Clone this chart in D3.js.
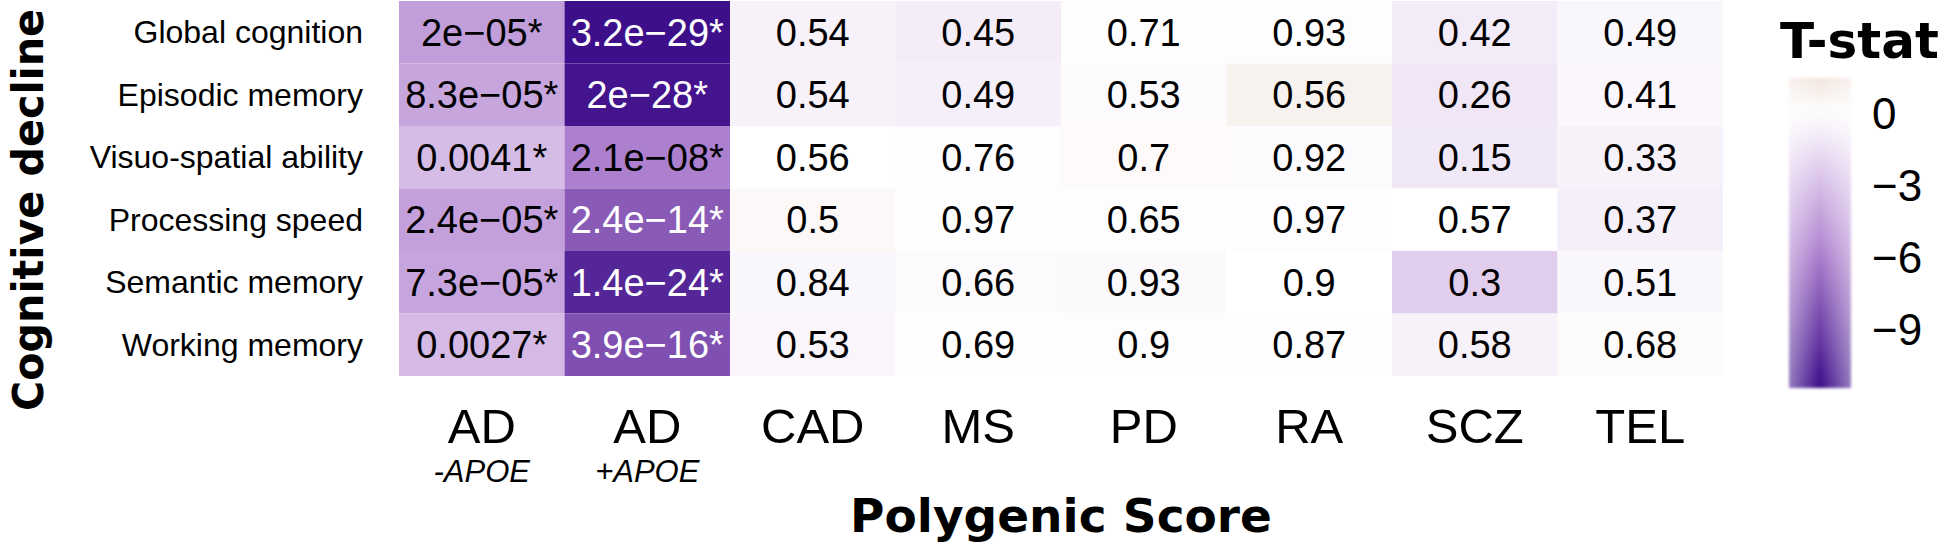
<!DOCTYPE html>
<html>
<head>
<meta charset="utf-8">
<script src="https://cdn.jsdelivr.net/npm/d3@7.9.0/dist/d3.min.js"></script>
<style>
  body { margin: 0; background: #fff; }
  svg { display: block; }
</style>
</head>
<body>
<svg id="chart" width="1946" height="546"></svg>
<script>
// rows = cognitive outcomes, columns = polygenic scores
let traits = ['Global cognition', 'Episodic memory', 'Visuo-spatial ability', 'Processing speed', 'Semantic memory', 'Working memory'];
let scores = ['AD-APOE', 'AD+APOE', 'CAD', 'MS', 'PD', 'RA', 'SCZ', 'TEL'];
let scoreLabels = ['AD', 'AD', 'CAD', 'MS', 'PD', 'RA', 'SCZ', 'TEL'];
let scoreSubLabels = ['-APOE', '+APOE', '', '', '', '', '', ''];

// p-values shown in the cells (one array per row)
let pGlobal     = ['2e−05*', '3.2e−29*', '0.54', '0.45', '0.71', '0.93', '0.42', '0.49'];
let pEpisodic   = ['8.3e−05*', '2e−28*', '0.54', '0.49', '0.53', '0.56', '0.26', '0.41'];
let pVisuo      = ['0.0041*', '2.1e−08*', '0.56', '0.76', '0.7', '0.92', '0.15', '0.33'];
let pProcessing = ['2.4e−05*', '2.4e−14*', '0.5', '0.97', '0.65', '0.97', '0.57', '0.37'];
let pSemantic   = ['7.3e−05*', '1.4e−24*', '0.84', '0.66', '0.93', '0.9', '0.3', '0.51'];
let pWorking    = ['0.0027*', '3.9e−16*', '0.53', '0.69', '0.9', '0.87', '0.58', '0.68'];

// T-statistics
let tGlobal     = [-4.4, -11.2, -0.6, -0.8, -0.1, 0.1, -0.9, -0.35];
let tEpisodic   = [-4.0, -11.0, -0.6, -0.7, -0.2, 0.7, -1.1, -0.4];
let tVisuo      = [-3.0, -5.8, 0.0, -0.15, 0.25, -0.2, -1.0, -0.6];
let tProcessing = [-4.3, -7.6, 0.35, 0.05, -0.1, -0.15, 0.0, -0.7];
let tSemantic   = [-4.1, -10.2, -0.35, -0.2, -0.25, 0.0, -2.2, -0.35];
let tWorking    = [-3.1, -8.1, -0.45, -0.05, -0.1, -0.05, -0.6, 0.15];

let legendTicks = [0, -3, -6, -9];
let legendRange = [-11.46, 1.46];

let pRows = [pGlobal, pEpisodic, pVisuo, pProcessing, pSemantic, pWorking];
let tRows = [tGlobal, tEpisodic, tVisuo, tProcessing, tSemantic, tWorking];

let cells = [];
traits.forEach((trait, i) => {
  scores.forEach((score, j) => {
    cells.push({ trait: trait, score: score, t: tRows[i][j], p: pRows[i][j] });
  });
});

let svg = d3.select('#chart');

let x = d3.scaleBand().domain(scores).range([399, 1723]);
let y = d3.scaleBand().domain(traits).range([1, 376]);

let color = d3.scaleLinear()
  .domain([-11.3, -5.6, 0, 11.3])
  .range(['#3c0c8a', '#b084d0', '#ffffff', '#7f3b08'])
  .interpolate(d3.interpolateLab)
  .clamp(true);

// heatmap cells
svg.append('g')
  .selectAll('rect')
  .data(cells)
  .join('rect')
  .attr('x', (d) => x(d.score))
  .attr('y', (d) => y(d.trait))
  .attr('width', x.bandwidth())
  .attr('height', y.bandwidth())
  .attr('fill', (d) => color(d.t));

svg.append('g')
  .selectAll('text')
  .data(cells)
  .join('text')
  .attr('x', (d) => x(d.score) + x.bandwidth() / 2)
  .attr('y', (d) => y(d.trait) + y.bandwidth() / 2)
  .attr('dy', '0.36em')
  .attr('text-anchor', 'middle')
  .attr('font-family', 'Liberation Sans, Arial, sans-serif')
  .attr('font-size', 38)
  .attr('fill', (d) => (d.t < -6.5 ? '#ffffff' : '#000000'))
  .text((d) => d.p);

// row labels
let yAxis = svg.append('g')
  .attr('transform', `translate(${x.range()[0]},0)`)
  .call(d3.axisLeft(y).tickSize(0).tickPadding(36));
yAxis.select('.domain').remove();
yAxis.selectAll('text')
  .attr('font-family', 'Liberation Sans, Arial, sans-serif')
  .attr('font-size', 32)
  .attr('fill', '#000')
  .attr('dy', '0.35em');

// column labels, AD ones get an italic second line
let xAxis = svg.append('g')
  .attr('transform', `translate(0,${y.range()[1]})`)
  .call(d3.axisBottom(x).tickSize(0).tickFormat(''));
xAxis.select('.domain').remove();
xAxis.selectAll('.tick text').each(function (d, i) {
  let t = d3.select(this)
    .attr('font-family', 'Liberation Sans, Arial, sans-serif')
    .attr('fill', '#000')
    .attr('y', 67)
    .attr('dy', 0);
  t.append('tspan').attr('x', 0).attr('font-size', 49).text(scoreLabels[i]);
  if (scoreSubLabels[i] !== '') {
    t.append('tspan')
      .attr('x', 0)
      .attr('dy', 39)
      .attr('font-size', 31)
      .attr('font-style', 'italic')
      .text(scoreSubLabels[i]);
  }
});

// axis titles
svg.append('text')
  .attr('x', (x.range()[0] + x.range()[1]) / 2)
  .attr('y', 532)
  .attr('text-anchor', 'middle')
  .attr('font-family', 'DejaVu Sans, sans-serif')
  .attr('font-weight', 'bold')
  .attr('font-size', 47)
  .text('Polygenic Score');

svg.append('text')
  .attr('transform', 'translate(43,210) rotate(-90)')
  .attr('text-anchor', 'middle')
  .attr('font-family', 'DejaVu Sans, sans-serif')
  .attr('font-weight', 'bold')
  .attr('font-size', 42)
  .attr('textLength', 402)
  .attr('lengthAdjust', 'spacingAndGlyphs')
  .text('Cognitive decline');

// colour bar legend
let legendY = d3.scaleLinear().domain(legendRange).range([388, 78]);
let defs = svg.append('defs');

let grad = defs.append('linearGradient')
  .attr('id', 'tgrad')
  .attr('x1', 0).attr('y1', 1).attr('x2', 0).attr('y2', 0);
d3.range(0, 1.0001, 0.05).forEach((f) => {
  let v = legendRange[0] + f * (legendRange[1] - legendRange[0]);
  grad.append('stop').attr('offset', f).attr('stop-color', color(v));
});

let edge = defs.append('linearGradient').attr('id', 'tedge');
edge.append('stop').attr('offset', 0).attr('stop-color', '#fff').attr('stop-opacity', 0.45);
edge.append('stop').attr('offset', 0.5).attr('stop-color', '#fff').attr('stop-opacity', 0);
edge.append('stop').attr('offset', 1).attr('stop-color', '#fff').attr('stop-opacity', 0.45);

defs.append('filter').attr('id', 'soft')
  .append('feGaussianBlur').attr('stdDeviation', 1.5);

let bar = svg.append('g').attr('filter', 'url(#soft)');
bar.append('rect')
  .attr('x', 1789).attr('y', legendY(legendRange[1]))
  .attr('width', 62).attr('height', legendY(legendRange[0]) - legendY(legendRange[1]))
  .attr('fill', 'url(#tgrad)');
bar.append('rect')
  .attr('x', 1789).attr('y', legendY(legendRange[1]))
  .attr('width', 62).attr('height', legendY(legendRange[0]) - legendY(legendRange[1]))
  .attr('fill', 'url(#tedge)');

let legendAxis = svg.append('g')
  .attr('transform', 'translate(1851,0)')
  .call(d3.axisRight(legendY).tickValues(legendTicks).tickSize(0).tickPadding(21));
legendAxis.select('.domain').remove();
legendAxis.selectAll('text')
  .attr('font-family', 'Liberation Sans, Arial, sans-serif')
  .attr('font-size', 44)
  .attr('fill', '#000')
  .attr('dy', '0.36em');

svg.append('text')
  .attr('x', 1780)
  .attr('y', 58)
  .attr('font-family', 'DejaVu Sans, sans-serif')
  .attr('font-weight', 'bold')
  .attr('font-size', 50)
  .text('T-stat');
</script>
</body>
</html>
